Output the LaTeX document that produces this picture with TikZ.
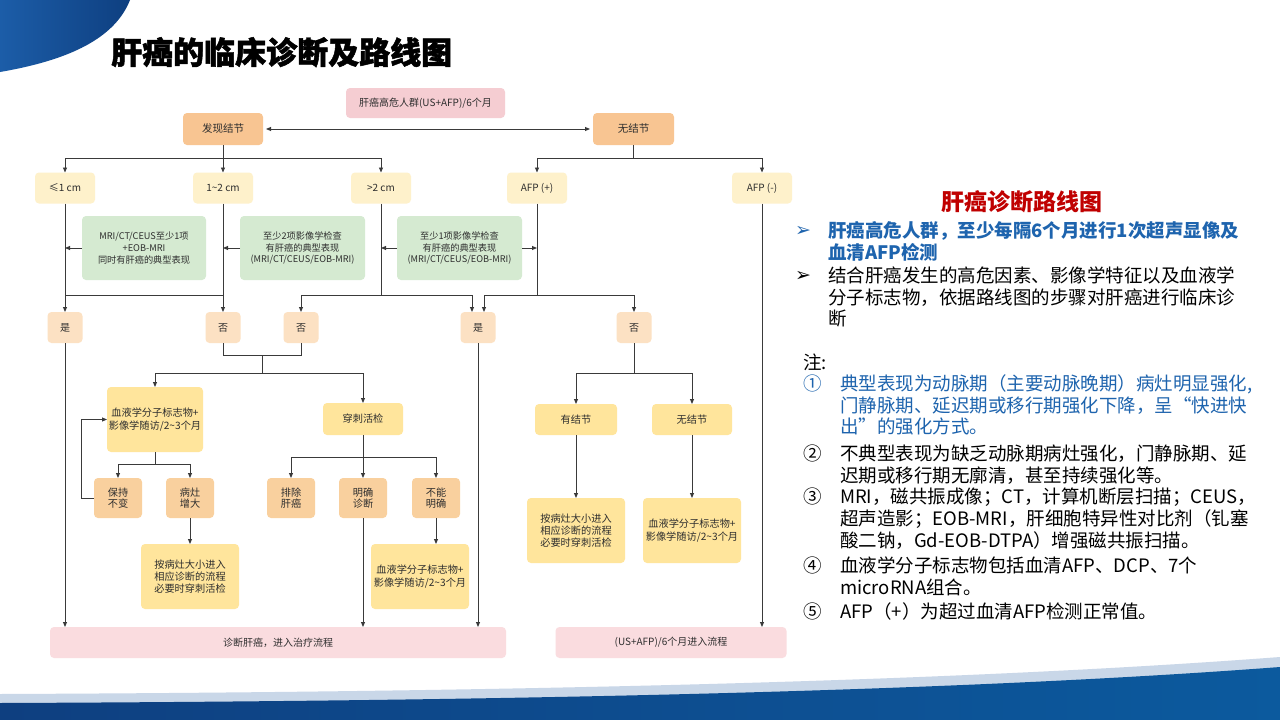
\documentclass[tikz,border=0pt]{standalone}
\usepackage{fontspec}
\setmainfont{Noto Sans CJK SC}
\newfontfamily\dejavu{DejaVu Sans}
\newfontfamily\heavy{Noto Sans CJK SC}[BoldFeatures={FakeBold=1.6}]
\usetikzlibrary{arrows.meta}
\definecolor{pinkTop}{HTML}{F5CDD2}
\definecolor{orng}{HTML}{F8C592}
\definecolor{ylight}{HTML}{FEF1CB}
\definecolor{grn}{HTML}{D5EAD1}
\definecolor{peachL}{HTML}{FCE1C3}
\definecolor{ylw}{HTML}{FFE59C}
\definecolor{peach}{HTML}{F9D09E}
\definecolor{pinkB}{HTML}{FADCDF}
\definecolor{linec}{HTML}{3A3A3A}
\definecolor{txt}{HTML}{2E2E2E}
\definecolor{blueT}{HTML}{1E64AE}
\definecolor{redT}{HTML}{C00000}
\definecolor{navy}{HTML}{0E3F80}
\definecolor{midblue}{HTML}{1C5DA8}
\definecolor{lightband}{HTML}{C9D7E8}
\definecolor{botblue}{HTML}{0C5A9E}
\begin{document}
\begin{tikzpicture}[x=1pt,y=-1pt,
  box/.style={rounded corners=4pt, inner sep=1pt, outer sep=0pt, align=center, text=txt,
    font=\fontsize{10}{12}\selectfont},
  wh/.style 2 args={minimum width=#1pt, minimum height=#2pt},
  conn/.style={draw=linec, line width=0.9pt},
  tip/.tip={Triangle[length=5pt,width=4pt]},
  arr/.style={conn, -tip},
  dbl/.style={conn, tip-tip},
  rt/.style={anchor=base west, inner sep=0pt, font=\fontsize{18.5}{22}\selectfont},
  bul/.style={anchor=base west, inner sep=0pt, font=\dejavu\bfseries\fontsize{19}{22}\selectfont},
]
\useasboundingbox (0,0) rectangle (1280,720);
\fill[white] (0,0) rectangle (1280,720);

% decorations
\shade[left color=midblue, right color=navy] (0,0) -- (130,0) .. controls (115,38) and (70,60) .. (0,72) -- cycle;
\fill[lightband] (0,694) .. controls (500,692) and (950,682) .. (1280,657) -- (1280,720) -- (0,720) -- cycle;
\shade[left color=navy, right color=botblue] (0,703) .. controls (500,701) and (950,692) .. (1280,667) -- (1280,720) -- (0,720) -- cycle;

% main title
\node[anchor=base west, inner sep=0pt, font=\heavy\bfseries\fontsize{31}{36}\selectfont] (title) at (111,64) {肝癌的临床诊断及路线图};

% nodes
\node[box, fill=pinkTop, wh={159}{30}] (top) at (425.5,103) {肝癌高危人群(US+AFP)/6个月};
\node[box, fill=orng, wh={80}{32}, font=\fontsize{10.5}{12}\selectfont] (fx) at (223,129) {发现结节};
\node[box, fill=orng, wh={81}{32}, font=\fontsize{10.5}{12}\selectfont] (wjj) at (633.5,129) {无结节};

\node[box, fill=ylight, wh={60}{31}] (s1) at (65,188) {≤1 cm};
\node[box, fill=ylight, wh={60}{31}] (s2) at (223,188) {1\textasciitilde 2 cm};
\node[box, fill=ylight, wh={60}{31}] (s3) at (381,188) {>2 cm};
\node[box, fill=ylight, wh={60}{31}] (afpP) at (537,188) {AFP (+)};
\node[box, fill=ylight, wh={60}{31}] (afpM) at (762,188) {AFP (-)};

\node[box, fill=grn, wh={124}{64}, font=\fontsize{9.2}{11.7}\selectfont] (g1) at (144,248) {MRI/CT/CEUS至少1项\\+EOB-MRI\\同时有肝癌的典型表现};
\node[box, fill=grn, wh={125}{64}, font=\fontsize{9.2}{11.7}\selectfont] (g2) at (302.5,248) {至少2项影像学检查\\有肝癌的典型表现\\(MRI/CT/CEUS/EOB-MRI)};
\node[box, fill=grn, wh={125}{64}, font=\fontsize{9.2}{11.7}\selectfont] (g3) at (459.5,248) {至少1项影像学检查\\有肝癌的典型表现\\(MRI/CT/CEUS/EOB-MRI)};

\node[box, fill=peachL, wh={35}{31}] (yes1) at (65,327.5) {是};
\node[box, fill=peachL, wh={35}{31}] (no1) at (223,327.5) {否};
\node[box, fill=peachL, wh={35}{31}] (no2) at (301,327.5) {否};
\node[box, fill=peachL, wh={35}{31}] (yes2) at (478,327.5) {是};
\node[box, fill=peachL, wh={35}{31}] (no3) at (634,327.5) {否};

\node[box, fill=ylw, wh={96}{65}, font=\fontsize{10.2}{12.7}\selectfont] (xy1) at (155,419.5) {血液学分子标志物+\\影像学随访/2\textasciitilde 3个月};
\node[box, fill=ylw, wh={80}{32}, font=\fontsize{10.2}{12}\selectfont] (cc) at (363,419) {穿刺活检};
\node[box, fill=ylw, wh={82}{31}, font=\fontsize{10.2}{12}\selectfont] (yj) at (576,419.5) {有结节};
\node[box, fill=ylw, wh={80}{31}, font=\fontsize{10.2}{12}\selectfont] (wj2) at (692,419.5) {无结节};

\node[box, fill=peach, wh={48}{40}, font=\fontsize{10.2}{11.7}\selectfont] (bc) at (118,498) {保持\\不变};
\node[box, fill=peach, wh={48}{40}, font=\fontsize{10.2}{11.7}\selectfont] (bz) at (190,498) {病灶\\增大};
\node[box, fill=peach, wh={48}{40}, font=\fontsize{10.2}{11.7}\selectfont] (pc) at (291,498) {排除\\肝癌};
\node[box, fill=peach, wh={48}{40}, font=\fontsize{10.2}{11.7}\selectfont] (mq) at (363,498) {明确\\诊断};
\node[box, fill=peach, wh={48}{40}, font=\fontsize{10.2}{11.7}\selectfont] (bn) at (436,498) {不能\\明确};

\node[box, fill=ylw, wh={98}{65}, font=\fontsize{10.2}{12}\selectfont] (ab2) at (576,530.5) {按病灶大小进入\\相应诊断的流程\\必要时穿刺活检};
\node[box, fill=ylw, wh={98}{65}, font=\fontsize{10.2}{12.7}\selectfont] (xy3) at (692,530.5) {血液学分子标志物+\\影像学随访/2\textasciitilde 3个月};
\node[box, fill=ylw, wh={98}{65}, font=\fontsize{10.2}{12}\selectfont] (ab1) at (190,576.5) {按病灶大小进入\\相应诊断的流程\\必要时穿刺活检};
\node[box, fill=ylw, wh={98}{65}, font=\fontsize{10.2}{12.7}\selectfont] (xy2) at (420,576.5) {血液学分子标志物+\\影像学随访/2\textasciitilde 3个月};

\node[box, fill=pinkB, wh={456}{31}] (zd) at (278,642.5) {诊断肝癌，进入治疗流程};
\node[box, fill=pinkB, wh={231}{31}] (us) at (671,642.5) {(US+AFP)/6个月进入流程};

% junction coordinates
\coordinate (j1) at (65,295);
\coordinate (j2) at (223,295);
\coordinate (j3) at (381,295);
\coordinate (j4) at (537,295);
\coordinate (j5) at (262,355);
\coordinate (j6) at (262,373);
\coordinate (j7) at (155,464);
\coordinate (j8) at (363,457);
\coordinate (j9) at (634,373);

% connectors
\draw[dbl, shorten <=3pt, shorten >=3pt] (fx) -- (wjj);
\draw[arr] (fx.south) -- ++(0,13) -| (s1.north);
\draw[arr] (fx.south) -- ++(0,13) -| (s3.north);
\draw[arr] (fx.south) -- (s2.north);
\draw[arr] (wjj.south) -- ++(0,13) -| (afpP.north);
\draw[arr] (wjj.south) -- ++(0,13) -| (afpM.north);

\draw[arr] (s1.south) -- (yes1.north);
\draw[arr] (s2.south) -- (no1.north);
\draw[conn] (j1) -- (j2);
\draw[conn] (s3.south) -- (j3);
\draw[arr] (j3) -| (no2.north);
\draw[arr] (j3) -| ([xshift=-6pt]yes2.north);
\draw[conn] (afpP.south) -- (j4);
\draw[arr] (j4) -| ([xshift=6pt]yes2.north);
\draw[arr] (j4) -| (no3.north);

\draw[arr] (g1.west) -- (g1.west -| s1.south);
\draw[arr] (g2.west) -- (g2.west -| s2.south);
\draw[arr] (g3.west) -- (g3.west -| s3.south);
\draw[arr] (g3.east) -- (g3.east -| afpP.south);

\draw[conn] (no1.south) -- ++(0,12) -| (no2.south);
\draw[conn] (j5) -- (j6);
\draw[arr] (j6) -| (xy1.north);
\draw[arr] (j6) -| (cc.north);

\draw[conn] (xy1.south) -- (j7);
\draw[arr] (j7) -| (bc.north);
\draw[arr] (j7) -| (bz.north);
\draw[arr] (bc.west) -- ++(-13,0) |- (xy1.west);
\draw[arr] (bz.south) -- (ab1.north);

\draw[conn] (cc.south) -- (j8);
\draw[arr] (j8) -| (pc.north);
\draw[arr] (j8) -| (bn.north);
\draw[arr] (j8) -- (mq.north);
\draw[arr] (bn.south) -- (bn.south |- xy2.north);
\draw[arr] (mq.south) -- (mq.south |- zd.north);
\draw[arr] (yes1.south) -- (yes1.south |- zd.north);
\draw[arr] (yes2.south) -- (yes2.south |- zd.north);

\draw[conn] (no3.south) -- (j9);
\draw[arr] (j9) -| (yj.north);
\draw[arr] (j9) -| (wj2.north);
\draw[arr] (yj.south) -- (ab2.north);
\draw[arr] (wj2.south) -- (xy3.north);
\draw[arr] (afpM.south) -- (afpM.south |- us.north);

% right panel
\node[inner sep=0pt, font=\fontsize{23}{26}\selectfont\bfseries, text=redT] (rtitle) at (1022,202) {肝癌诊断路线图};
\node[bul, text=blueT] (bul1) at (795,236) {➢};
\node[rt, text=blueT, font=\fontsize{18.5}{22}\selectfont\bfseries] (b1a) at (828,237) {肝癌高危人群，至少每隔6个月进行1次超声显像及};
\node[rt, text=blueT, font=\fontsize{18.5}{22}\selectfont\bfseries] (b1b) at (828,259) {血清AFP检测};
\node[bul, text=black] (bul2) at (795,281) {➢};
\node[rt, text=black] (b2a) at (828,282) {结合肝癌发生的高危因素、影像学特征以及血液学};
\node[rt, text=black] (b2b) at (828,304) {分子标志物，依据路线图的步骤对肝癌进行临床诊};
\node[rt, text=black] (b2c) at (828,325) {断};

\node[rt, text=black] (zhu) at (803,369) {注:};
\node[rt, text=blueT] (c1) at (803,390) {①};
\node[rt, text=blueT] (n1a) at (840,390) {典型表现为动脉期（主要动脉晚期）病灶明显强化,};
\node[rt, text=blueT] (n1b) at (840,412) {门静脉期、延迟期或移行期强化下降，呈“快进快};
\node[rt, text=blueT] (n1c) at (840,433) {出”的强化方式。};
\node[rt, text=black] (c2) at (803,460) {②};
\node[rt, text=black] (n2a) at (840,460) {不典型表现为缺乏动脉期病灶强化，门静脉期、延};
\node[rt, text=black] (n2b) at (840,482) {迟期或移行期无廓清，甚至持续强化等。};
\node[rt, text=black] (c3) at (803,503) {③};
\node[rt, text=black] (n3a) at (840,503) {MRI，磁共振成像；CT，计算机断层扫描；CEUS，};
\node[rt, text=black] (n3b) at (840,525) {超声造影；EOB-MRI，肝细胞特异性对比剂（钆塞};
\node[rt, text=black] (n3c) at (840,547) {酸二钠，Gd-EOB-DTPA）增强磁共振扫描。};
\node[rt, text=black] (c4) at (803,572) {④};
\node[rt, text=black] (n4a) at (840,572) {血液学分子标志物包括血清AFP、DCP、7个};
\node[rt, text=black] (n4b) at (840,594) {microRNA组合。};
\node[rt, text=black] (c5) at (803,618) {⑤};
\node[rt, text=black] (n5a) at (840,618) {AFP（+）为超过血清AFP检测正常值。};
\end{tikzpicture}
\end{document}
